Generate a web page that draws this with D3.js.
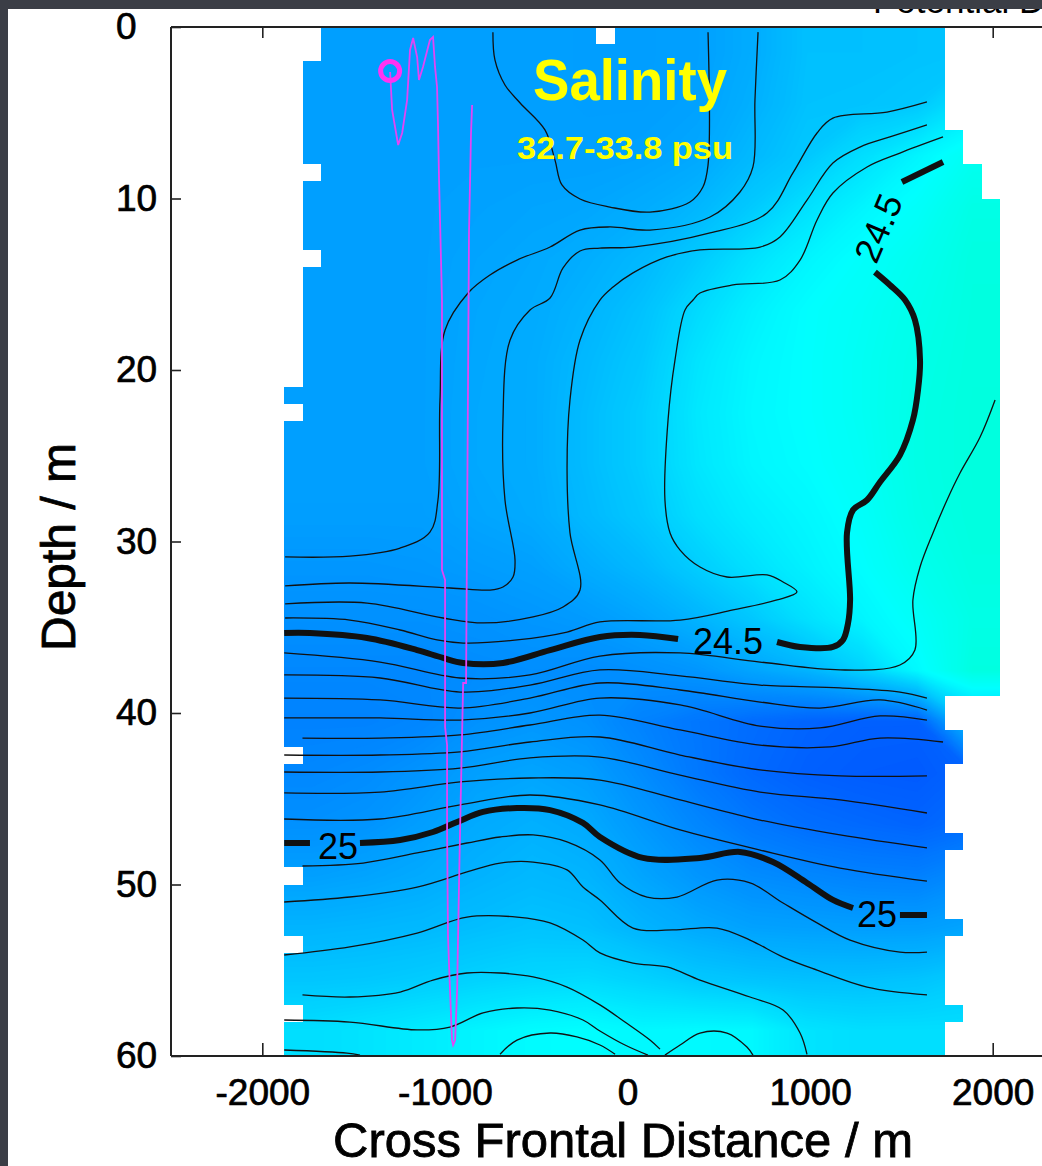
<!DOCTYPE html>
<html lang="en">
<head>
<meta charset="utf-8">
<title>Salinity section</title>
<script src="https://cdn.jsdelivr.net/npm/d3@7"></script>
<style>
  html, body { margin: 0; padding: 0; background: #3b3e46; }
  svg { display: block; }
  text { font-family: "Liberation Sans", Arial, Helvetica, sans-serif; }
</style>
</head>
<body>
<svg id="chart" width="1042" height="1166"></svg>
<script>
// ---------------- data ----------------
const xTicks = [-2000, -1000, 0, 1000, 2000];
const depthTicks = [0, 10, 20, 30, 40, 50, 60];

// salinity (psu) on a coarse grid: 13 columns of 301.5 m starting at -1880 m, rows of 3 m
const gridX0 = -1880, gridColW = 301.5, gridRowH = 3;
const salinityRows = [
  [33.045,33.045,33.045,33.045,33.045,33.041,33.041,33.045,33.071,33.114,33.114,33.118,33.123],
  [33.045,33.045,33.045,33.045,33.045,33.041,33.041,33.049,33.080,33.118,33.121,33.131,33.196],
  [33.045,33.045,33.045,33.045,33.045,33.045,33.049,33.062,33.099,33.131,33.179,33.228,33.278],
  [33.045,33.045,33.045,33.049,33.054,33.058,33.071,33.093,33.136,33.185,33.228,33.261,33.304],
  [33.045,33.045,33.045,33.054,33.062,33.075,33.097,33.136,33.187,33.228,33.257,33.282,33.313],
  [33.045,33.045,33.045,33.058,33.067,33.088,33.118,33.170,33.218,33.250,33.269,33.293,33.315],
  [33.045,33.045,33.045,33.060,33.071,33.099,33.131,33.192,33.231,33.252,33.274,33.300,33.317],
  [33.045,33.045,33.045,33.062,33.071,33.106,33.142,33.200,33.235,33.252,33.274,33.304,33.319],
  [33.045,33.045,33.045,33.062,33.071,33.106,33.142,33.196,33.231,33.248,33.269,33.304,33.319],
  [33.041,33.041,33.041,33.056,33.067,33.099,33.131,33.179,33.213,33.235,33.261,33.300,33.317],
  [33.024,33.024,33.028,33.036,33.045,33.071,33.099,33.142,33.185,33.222,33.250,33.287,33.313],
  [33.011,33.011,33.011,33.015,33.024,33.034,33.056,33.088,33.131,33.185,33.228,33.265,33.304],
  [32.993,32.993,32.993,33.002,33.006,33.002,33.011,33.024,33.056,33.088,33.153,33.239,33.315],
  [32.980,32.980,32.989,33.013,33.024,33.013,32.980,32.955,32.933,32.916,32.907,32.907,33.130],
  [32.993,33.002,33.019,33.045,33.056,33.041,33.002,32.959,32.926,32.907,32.898,32.894,32.916],
  [33.011,33.019,33.041,33.067,33.080,33.067,33.028,32.991,32.959,32.937,32.926,32.916,32.937],
  [33.045,33.054,33.067,33.084,33.097,33.088,33.056,33.024,33.002,32.991,32.980,32.976,33.002],
  [33.088,33.093,33.099,33.110,33.121,33.114,33.088,33.067,33.049,33.045,33.041,33.041,33.056],
  [33.127,33.131,33.140,33.153,33.164,33.170,33.153,33.131,33.121,33.114,33.114,33.121,33.142],
  [33.179,33.192,33.209,33.228,33.244,33.250,33.235,33.239,33.235,33.192,33.179,33.179,33.179]
];

// footprint of the measured cells: 100.5 m wide, 1 m deep, first/last(excl.) cell per metre
const cellX0 = -1880, cellW = 100.5;
const rowFirstCell = [2,2, 1,1,1,1,1,1, 2, 1,1,1,1, 2, 1,1,1,1,1,1,1, 0, 1,
  0,0,0,0,0,0,0,0,0,0,0,0,0,0,0,0,0,0,0, 1, 0,0,0,0,0,0, 1, 0,0,0, 1, 0,0,0, 1, 0,0];
const rowEndCell = [36,36,36,36,36,36, 37,37, 38,38,
  39,39,39,39,39,39,39,39,39,39,39,39,39,39,39,39,39,39,39,39,39,39,39,39,39,39,39,39,39,
  36,36, 37,37, 36,36,36,36, 37, 36,36,36,36, 37, 36,36,36,36, 37, 36,36];
const missingCells = [[17, 0]];

// potential density contours [distance m, depth m]
const sigmaContours = [
  { level: 24.25, pts: [[-737,0.3],[-726,1.92],[-671,3.38],[-588,4.43],[-452,6.0],[-397,7.76],[-359,9.21],[-260,10.03],[-96,10.5],[123,10.79],[342,10.2],[413,9.33],[441,8.05],[441,0.3]] },
  { level: 24.30, pts: [[-1875,30.9],[-1520,30.85],[-1245,30.38],[-1082,29.45],[-1038,27.58],[-1027,21.75],[-999,17.67],[-873,15.51],[-753,14.46],[-605,13.59],[-424,12.83],[-260,11.84],[-96,11.66],[123,11.84],[452,11.08],[616,9.62],[687,8.16],[698,4.26],[715,0.3]] },
  { level: 24.35, pts: [[-1875,32.59],[-1520,32.42],[-972,32.71],[-753,32.83],[-682,32.65],[-627,32.07],[-616,31.08],[-671,27.58],[-682,22.92],[-643,18.25],[-534,16.5],[-424,15.8],[-353,14.05],[-260,13.06],[-151,12.89],[30,12.83],[452,12.01],[764,10.85],[906,8.51],[1038,6.18],[1125,5.31],[1421,4.96],[1640,4.37]] },
  { level: 24.40, pts: [[-1875,33.64],[-1426,33.59],[-1010,34.46],[-791,34.75],[-517,34.4],[-353,33.82],[-260,32.83],[-315,29.5],[-331,25.83],[-315,21.75],[-260,18.25],[-151,15.92],[-79,15.16],[30,14.34],[216,13.41],[397,13.0],[726,12.83],[835,12.24],[983,10.09],[1125,7.93],[1273,7.0],[1437,6.41],[1640,5.71]] },
  { level: 24.45, pts: [[-1875,34.46],[-1520,34.58],[-1245,35.16],[-1043,35.74],[-900,35.92],[-605,35.74],[-331,35.28],[-151,34.69],[288,34.58],[578,33.99],[819,33.41],[928,32.94],[852,32.36],[764,31.95],[545,32.07],[397,31.49],[288,30.5],[233,29.5],[205,27.58],[222,22.92],[260,19.42],[315,16.5],[359,15.92],[397,15.51],[578,15.04],[835,14.75],[945,13.59],[1038,11.25],[1125,9.68],[1312,8.16],[1492,7.35],[1728,6.41]] },
  { level: 24.5, pts: [[-1880,35.34],[-1739,35.34],[-1426,35.63],[-1152,36.33],[-1010,36.79],[-900,37.08],[-682,37.08],[-424,36.33],[-151,35.57],[68,35.45],[277,35.69]] },
  { level: 24.5, pts: [[819,35.86],[945,36.15],[1125,36.15],[1180,35.74],[1208,34.75],[1219,33.41],[1202,29.5],[1235,28.16],[1312,27.58],[1383,26.53],[1492,24.96],[1563,22.92],[1591,21.17],[1602,19.42],[1574,17.08],[1520,15.92],[1437,15.04],[1355,14.29]] },
  { level: 24.5, pts: [[1503,9.04],[1728,7.87]] },
  { level: 24.55, pts: [[-1880,36.5],[-1355,37.03],[-917,37.96],[-534,37.78],[-151,36.68],[288,36.5],[726,37.03],[1164,37.49],[1492,37.2],[1574,36.33],[1563,33.41],[1602,31.49],[1673,29.5],[1750,27.58],[1821,26.01],[1931,23.91],[2013,21.75]] },
  { level: 24.60, pts: [[-1880,37.78],[-1355,37.96],[-917,38.78],[-534,38.37],[-151,37.49],[288,37.84],[726,38.37],[1164,38.54],[1492,38.78],[1640,39.13]] },
  { level: 24.65, pts: [[-1880,39.13],[-1355,39.24],[-917,39.71],[-534,39.13],[-151,38.25],[288,38.66],[726,39.36],[1054,39.71],[1383,39.24],[1640,39.83]] },
  { level: 24.70, pts: [[-1880,40.29],[-1355,40.29],[-917,40.41],[-534,40.0],[-151,39.13],[288,39.53],[726,40.76],[1054,40.87],[1383,40.17],[1640,40.41]] },
  { level: 24.75, pts: [[-1780,41.46],[-1355,41.46],[-917,41.28],[-534,40.7],[-151,40.12],[288,40.99],[726,41.87],[1109,41.98],[1383,41.46],[1728,41.69]] },
  { level: 24.80, pts: [[-1880,42.45],[-1355,42.45],[-917,42.27],[-534,41.69],[-151,41.4],[288,42.45],[726,43.32],[1164,43.67],[1640,43.67]] },
  { level: 24.85, pts: [[-1880,43.44],[-1355,43.44],[-917,43.21],[-534,42.62],[-151,42.57],[288,43.62],[726,44.61],[1164,45.07],[1640,45.83]] },
  { level: 24.90, pts: [[-1880,44.66],[-1355,44.61],[-917,44.02],[-534,43.79],[-151,43.91],[288,45.07],[726,46.24],[1164,47.11],[1640,47.87]] },
  { level: 24.95, pts: [[-1880,46.18],[-1355,46.18],[-917,45.36],[-534,44.78],[-151,45.36],[288,46.82],[726,47.99],[1164,49.04],[1640,49.8]] },
  { level: 25.0, pts: [[-1880,47.58],[-1739,47.58]] },
  { level: 25.0, pts: [[-1465,47.58],[-1245,47.41],[-1065,46.94],[-933,46.36],[-791,45.77],[-605,45.54],[-424,45.66],[-244,46.41],[-151,47.23],[85,48.45],[397,48.45],[616,48.1],[797,48.69],[983,49.91],[1125,50.9],[1235,51.37]] },
  { level: 25.0, pts: [[1492,51.78],[1640,51.78]] },
  { level: 25.05, pts: [[-1780,48.92],[-1448,48.75],[-1152,48.16],[-879,47.58],[-698,47.23],[-517,47.11],[-331,47.52],[-151,48.57],[-41,49.91],[107,50.73],[271,50.73],[490,49.74],[671,49.91],[852,51.08],[1038,52.24],[1219,53.24],[1492,53.94],[1640,53.94]] },
  { level: 25.10, pts: [[-1880,51.02],[-1520,50.73],[-1152,50.15],[-879,49.27],[-698,48.75],[-517,48.69],[-331,49.15],[-244,50.15],[-151,50.9],[30,52.54],[249,52.65],[490,52.54],[671,53.24],[852,54.23],[1038,54.99],[1312,55.98],[1640,56.44]] },
  { level: 25.15, pts: [[-1880,54.11],[-1520,53.64],[-1152,52.83],[-879,51.9],[-605,51.9],[-424,52.24],[-244,53.24],[-151,53.99],[30,54.58],[216,54.81],[397,55.57],[671,56.56],[852,57.32],[945,58.66],[983,59.9]] },
  { level: 25.20, pts: [[-1780,56.44],[-1520,56.56],[-1245,56.27],[-1065,55.57],[-879,55.16],[-698,55.16],[-517,55.39],[-331,55.98],[-151,57.02],[-14,58.02],[123,59.07],[178,59.6]] },
  { level: 25.25, pts: [[-1880,57.9],[-1520,58.02],[-1152,58.48],[-972,58.31],[-791,57.49],[-605,57.2],[-424,57.32],[-244,57.9],[-151,58.54],[-14,59.36],[112,59.95]] },
  { level: 25.25, pts: [[205,59.95],[288,59.36],[397,58.66],[545,58.66],[654,59.48],[687,59.95]] },
  { level: 25.30, pts: [[-698,59.9],[-605,59.07],[-424,58.66],[-277,58.89],[-151,59.36],[-68,59.9]] },
  { level: 25.30, pts: [[-1880,59.65],[-1536,59.83],[-1465,59.95]] }
];

const contourLabels = [
  { text: "25", x: -1585, d: 47.76 },
  { text: "24.5", x: 550, d: 35.8 },
  { text: "25", x: 1366, d: 51.72 },
  { text: "24.5", x: 1372, d: 11.72 }
];

// instrument track (magenta)
const profileTrack = [[-1300,2.62],[-1289,4.84],[-1256,6.88],[-1234,6.18],[-1207,4.26],[-1191,1.34],[-1174,0.64],[-1152,1.75],[-1142,3.09],[-1120,2.33],[-1082,0.76],[-1065,0.58],[-1054,2.33],[-1043,3.5],[-1038,5.6],[-1032,8.92],[-1016,15.92],[-1016,31.66],[-999,32.24],[-999,40.82],[-988,41.87],[-988,46.82],[-983,53.06],[-972,56.15],[-961,59.07],[-955,59.36],[-944,59.07],[-933,56.15],[-928,53.06],[-917,46.82],[-900,38.25],[-884,38.25],[-868,12.01],[-857,6.18],[-851,4.55]];
const profileStart = [-1300, 2.57];

// ---------------- drawing ----------------
const W = 1042, H = 1166;
const svg = d3.select("#chart");
const plot = { left: 171, right: 1084, top: 27, bottom: 1056 };

const x = d3.scaleLinear().domain([-2500, 2500]).range([plot.left, plot.right]);
const y = d3.scaleLinear().domain([0, 60]).range([plot.top, plot.bottom]);
const hue = d3.scaleLinear().domain([32.7, 33.8]).range([240, 120]);
const colour = s => d3.hsl(hue(s), 1, 0.5).formatHex();

// slide background and white panel
svg.append("rect").attr("width", W).attr("height", H).attr("fill", "#3b3e46");
svg.append("rect").attr("x", 8).attr("y", 9).attr("width", W).attr("height", H).attr("fill", "#fff");

// title of the neighbouring panel, partly hidden
svg.append("text").attr("x", 873).attr("y", 13).attr("font-size", 35).attr("fill", "#000")
  .text("Potential Density");
svg.append("rect").attr("width", W).attr("height", 9).attr("fill", "#3b3e46");

// tick marks (they sit under the colour field)
const numFmt = d => String(d);
const axLeft = svg.append("g").attr("transform", `translate(${plot.left},0)`)
  .call(d3.axisLeft(y).tickValues(depthTicks).tickSize(-10).tickFormat(numFmt));
const axBottom = svg.append("g").attr("transform", `translate(0,${plot.bottom})`)
  .call(d3.axisBottom(x).tickValues(xTicks).tickSize(-13).tickFormat(numFmt));
const axTop = svg.append("g").attr("transform", `translate(0,${plot.top})`)
  .call(d3.axisTop(x).tickValues(xTicks).tickSize(-11).tickFormat(""));
[axLeft, axBottom, axTop].forEach(g => {
  g.select(".domain").remove();
  g.attr("font-family", null).attr("font-size", null);
  g.selectAll(".tick line").attr("stroke", "#222").attr("stroke-width", 1.6);
  g.selectAll("text").attr("font-size", 37).attr("fill", "#000")
    .attr("stroke", "#000").attr("stroke-width", 0.7);
});
axLeft.selectAll("text").attr("x", -55).attr("text-anchor", "start");
axBottom.selectAll("text").attr("y", 49).attr("dy", null);

// footprint clip, snapped to whole pixels so rows join without seams
const px = v => Math.round(v);
const clip = svg.append("defs").append("clipPath").attr("id", "footprint");
rowFirstCell.forEach((first, r) => {
  const gaps = missingCells.filter(c => c[1] === r).map(c => c[0]).sort((a, b) => a - b);
  let start = first;
  gaps.concat([rowEndCell[r]]).forEach(stop => {
    if (stop > start) {
      const x0 = px(x(cellX0 + start * cellW)), x1 = px(x(cellX0 + stop * cellW));
      const y0 = px(y(r)), y1 = px(y(r + 1));
      clip.append("rect").attr("x", x0).attr("y", y0).attr("width", x1 - x0).attr("height", y1 - y0);
    }
    start = stop + 1;
  });
});

// colour field: the edge cells are repeated once so that the open border
// of marching squares falls outside the clipped footprint
const edgeRow = r => [r[0], ...r, r[r.length - 1]];
const renderRows = [salinityRows[0], ...salinityRows, salinityRows[salinityRows.length - 1]].map(edgeRow);
const nx = renderRows[0].length, ny = renderRows.length;
const bands = d3.contours().size([nx, ny])
  .thresholds(d3.range(32.85, 33.34, 0.004))(renderRows.flat());
const gridPath = d3.geoPath(d3.geoTransform({
  point(gx, gy) { this.stream.point(x(gridX0 + (gx - 1) * gridColW), y((gy - 1) * gridRowH)); }
}));
svg.append("g").attr("clip-path", "url(#footprint)")
  .selectAll("path").data(bands).join("path")
  .attr("d", gridPath)
  .attr("fill", d => colour(d.value + 0.002));

// density contours
const isMajor = lv => Math.abs(lv * 2 - Math.round(lv * 2)) < 1e-6;
const line = d3.line().x(d => x(d[0])).y(d => y(d[1])).curve(d3.curveCatmullRom.alpha(0.5));
svg.append("g").selectAll("path").data(sigmaContours).join("path")
  .attr("d", d => line(d.pts))
  .attr("fill", "none")
  .attr("stroke", "#111")
  .attr("stroke-linejoin", "round")
  .attr("stroke-width", d => isMajor(d.level) ? 6 : 1.3);

const labelRotation = [0, 0, 0, -67];
svg.append("g").selectAll("text").data(contourLabels).join("text")
  .attr("transform", (d, i) => `translate(${x(d.x)},${y(d.d)}) rotate(${labelRotation[i]})`)
  .attr("text-anchor", "middle").attr("dy", "0.36em")
  .attr("font-size", 36).attr("fill", "#000")
  .text(d => d.text);

// magenta track
svg.append("path")
  .attr("d", d3.line().x(d => x(d[0])).y(d => y(d[1]))(profileTrack))
  .attr("fill", "none").attr("stroke", "#e245f5").attr("stroke-width", 1.8);
svg.append("circle")
  .attr("cx", x(profileStart[0])).attr("cy", y(profileStart[1])).attr("r", 9.5)
  .attr("fill", "none").attr("stroke", "#ff33f2").attr("stroke-width", 5);

// frame
const frame = svg.append("g").attr("stroke", "#222").attr("stroke-width", 2);
frame.append("line").attr("x1", plot.left).attr("x2", plot.left).attr("y1", plot.top).attr("y2", plot.bottom);
frame.append("line").attr("x1", plot.left).attr("x2", W).attr("y1", plot.top).attr("y2", plot.top);
frame.append("line").attr("x1", plot.left).attr("x2", W).attr("y1", plot.bottom).attr("y2", plot.bottom);

// in-plot titles
svg.append("text").attr("x", 533).attr("y", 100)
  .attr("font-size", 58).attr("font-weight", "bold").attr("fill", "#ffff00")
  .attr("textLength", 194).attr("lengthAdjust", "spacingAndGlyphs")
  .text("Salinity");
svg.append("text").attr("x", 517).attr("y", 159)
  .attr("font-size", 32).attr("font-weight", "bold").attr("fill", "#ffff00")
  .attr("textLength", 216).attr("lengthAdjust", "spacingAndGlyphs")
  .text("32.7-33.8 psu");

// axis titles
svg.append("text").attr("x", 623).attr("y", 1157)
  .attr("text-anchor", "middle").attr("font-size", 48).attr("fill", "#000")
  .attr("stroke", "#000").attr("stroke-width", 0.8)
  .attr("textLength", 580).attr("lengthAdjust", "spacingAndGlyphs")
  .text("Cross Frontal Distance / m");
svg.append("text").attr("transform", "translate(75,547) rotate(-90)")
  .attr("text-anchor", "middle").attr("font-size", 48).attr("fill", "#000")
  .attr("stroke", "#000").attr("stroke-width", 0.8)
  .text("Depth / m");
</script>
</body>
</html>
